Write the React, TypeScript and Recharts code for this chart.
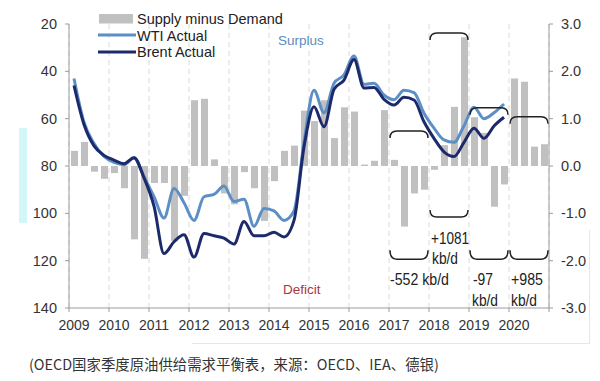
import React from "react";
import {
  ComposedChart,
  Bar,
  Line,
  XAxis,
  YAxis,
  CartesianGrid,
} from "recharts";

// quarterly OECD supply minus demand (mb/d), 2009Q1 .. 2020Q4
const balance = [
  0.32, 0.51, -0.12, -0.27,
  -0.15, -0.47, -1.55, -1.96,
  -0.36, -0.36, -1.58, -0.63,
  1.39, 1.42, 0.14, -0.58,
  -0.81, -0.13, -0.47, -1.16,
  -0.32, 0.32, 0.43, 1.17,
  0.95, 1.39, 0.59, 1.24,
  1.15, 0.03, 0.11, 1.18,
  0.13, -1.28, -0.58, -0.5,
  -0.08, 0.44, 1.25, 2.72,
  1.03, 0.7, -0.86, -0.39,
  1.85, 1.78, 0.41, 0.46,
];

// quarterly prices, 2009Q1 .. 2019Q4
const wti = [
  43, 61.5, 70.5, 76,
  78.5, 79.5, 76.5, 84.5,
  93, 102, 89.5, 95.5,
  103, 93, 92, 88.5,
  95, 94, 105.5, 98,
  99, 103, 99, 70,
  48, 57.5, 45, 41.5,
  33.5, 45.5, 45, 50,
  52, 48, 49, 57.7,
  64, 69, 70, 63,
  55.2, 60, 57.5, 53.8,
];

const brent = [
  46, 62.5, 71.5, 75.5,
  77.5, 79, 76.5, 85,
  97, 117, 112, 109,
  118.5, 108.5, 109.5, 110.5,
  113, 103.5, 109.5, 109.5,
  108, 110, 103, 72,
  55, 63.4, 47.6, 43.7,
  35, 47, 46.8, 51.8,
  54.2, 51, 52.1, 61.3,
  68.3, 74, 76, 70,
  64, 68.3, 63.1, 59.4,
];

const yearTicks = [2009, 2010, 2011, 2012, 2013, 2014, 2015, 2016, 2017, 2018, 2019, 2020, 2021];
const priceTicks = [20, 40, 60, 80, 100, 120, 140];
const balanceTicks = [-3, -2, -1, 0, 1, 2, 3];

const data = balance.map((b, i) => ({
  x: 2009 + (i + 0.5) / 4,
  balance: b,
  wti: i < wti.length ? wti[i] : null,
  brent: i < brent.length ? brent[i] : null,
}));

// plot area (matches chart margins + axis widths below)
const PL = 69;
const PR = 549;
const PT = 24;
const PB = 308;
const xOf = (yr) => PL + ((yr - 2009) / 12) * (PR - PL);
const yOfBal = (v) => PT + ((3 - v) / 6) * (PB - PT);

const FONT = "'Liberation Sans', Arial, sans-serif";
const WTI_C = "#5b8fc5";
const BRENT_C = "#1c2a6b";
const BAR_C = "#c0c0c0";
const AXIS_C = "#9c9c9c";

function topBracket(y0, y1, v) {
  const a = xOf(y0) + 1;
  const b = xOf(y1) - 1;
  const t = yOfBal(v);
  return `M${a},${t + 7} Q${a},${t} ${a + 7},${t} L${b - 7},${t} Q${b},${t} ${b},${t + 7}`;
}

function bottomBrace(y0, y1, vEnd, vLine) {
  const a = xOf(y0) + 1;
  const b = xOf(y1) - 1;
  const e = yOfBal(vEnd);
  const l = yOfBal(vLine);
  return `M${a},${e} Q${a},${l} ${a + 7},${l} L${b - 7},${l} Q${b},${l} ${b},${e}`;
}

function Overlay() {
  const txt = { fontFamily: FONT, fill: "#222" };
  return (
    <svg
      width={600}
      height={381}
      style={{ position: "absolute", left: 0, top: 0, pointerEvents: "none" }}
    >
      {/* legend */}
      <rect x={99} y={14} width={34} height={9.5} fill={BAR_C} />
      <line x1={98} x2={136} y1={35} y2={35} stroke={WTI_C} strokeWidth={3} />
      <line x1={98} x2={136} y1={52} y2={52} stroke={BRENT_C} strokeWidth={3} />
      <text x={137} y={24} fontSize={14.5} {...txt}>Supply minus Demand</text>
      <text x={137} y={40.5} fontSize={14.5} {...txt}>WTI Actual</text>
      <text x={137} y={57} fontSize={14.5} {...txt}>Brent Actual</text>

      <text x={278} y={45} fontSize={13.5} fontFamily={FONT} fill="#5b8cc0">Surplus</text>
      <text x={283} y={294} fontSize={13.5} fontFamily={FONT} fill="#a33b3b">Deficit</text>

      {/* brackets */}
      <g fill="none" stroke="#222" strokeWidth={1.5}>
        <path d={topBracket(2017, 2018, 0.74)} />
        <path d={topBracket(2018, 2019, 2.81)} />
        <path d={topBracket(2019, 2020, 1.23)} />
        <path d={topBracket(2020, 2021, 1.04)} />
        <path d={bottomBrace(2018, 2019, -0.93, -1.08)} />
        <path d={bottomBrace(2017, 2018, -1.78, -1.97)} />
        <path d={bottomBrace(2019, 2020, -1.78, -1.97)} />
        <path d={bottomBrace(2020, 2021, -1.78, -1.97)} />
      </g>

      <text x={431} y={244} fontSize={16} textLength={38} lengthAdjust="spacingAndGlyphs" {...txt}>+1081</text>
      <text x={432} y={264} fontSize={16} textLength={26} lengthAdjust="spacingAndGlyphs" {...txt}>kb/d</text>
      <text x={390} y={285} fontSize={16} textLength={59} lengthAdjust="spacingAndGlyphs" {...txt}>-552 kb/d</text>
      <text x={473} y={285} fontSize={16} textLength={20} lengthAdjust="spacingAndGlyphs" {...txt}>-97</text>
      <text x={472} y={306} fontSize={16} textLength={26} lengthAdjust="spacingAndGlyphs" {...txt}>kb/d</text>
      <text x={511} y={285} fontSize={16} textLength={32} lengthAdjust="spacingAndGlyphs" {...txt}>+985</text>
      <text x={511} y={306} fontSize={16} textLength={26} lengthAdjust="spacingAndGlyphs" {...txt}>kb/d</text>
    </svg>
  );
}

export default function App() {
  return (
    <div
      style={{
        position: "absolute",
        left: 0,
        top: 0,
        width: 600,
        height: 381,
        background: "#fff",
        overflow: "hidden",
      }}
    >
      {/* page artefacts around the screenshot */}
      <div style={{ position: "absolute", left: 19, top: 128, width: 8, height: 95, background: "#d3f6f8" }} />
      <div style={{ position: "absolute", left: 192, top: 343, width: 397, height: 1, background: "#e6e6e6" }} />
      <div style={{ position: "absolute", left: 589, top: 230, width: 1, height: 114, background: "#e6e6e6" }} />

      <ComposedChart
        width={600}
        height={338}
        data={data}
        margin={{ top: 24, right: 6, bottom: 0, left: 19 }}
        style={{ fontFamily: FONT }}
      >
        <CartesianGrid
          horizontal={false}
          strokeDasharray="5 4"
          stroke="#dadada"
          yAxisId="left"
        />
        <XAxis
          dataKey="x"
          type="number"
          domain={[2009, 2021]}
          ticks={yearTicks}
          tickFormatter={(v) => (v === 2021 ? "" : String(v))}
          height={30}
          tickSize={4}
          tickMargin={8}
          tick={{ fontSize: 14, fill: "#333", dx: 5 }}
          stroke={AXIS_C}
          allowDecimals={false}
        />
        <YAxis
          yAxisId="left"
          orientation="left"
          domain={[20, 140]}
          ticks={priceTicks}
          reversed
          width={50}
          tickSize={4}
          tickMargin={8}
          tick={{ fontSize: 14.5, fill: "#333" }}
          stroke={AXIS_C}
        />
        <YAxis
          yAxisId="right"
          orientation="right"
          domain={[-3, 3]}
          ticks={balanceTicks}
          tickFormatter={(v) => v.toFixed(1)}
          width={45}
          tickSize={4}
          tickMargin={8}
          tick={{ fontSize: 14.5, fill: "#333" }}
          stroke={AXIS_C}
        />
        <Bar
          yAxisId="right"
          dataKey="balance"
          fill={BAR_C}
          barSize={7}
          isAnimationActive={false}
        />
        <Line
          yAxisId="left"
          type="monotone"
          dataKey="wti"
          stroke={WTI_C}
          strokeWidth={3}
          dot={false}
          isAnimationActive={false}
        />
        <Line
          yAxisId="left"
          type="monotone"
          dataKey="brent"
          stroke={BRENT_C}
          strokeWidth={3}
          dot={false}
          isAnimationActive={false}
        />
      </ComposedChart>

      <Overlay />

      <div
        style={{
          position: "absolute",
          left: 29,
          top: 354,
          fontFamily: "'Noto Sans CJK SC', sans-serif",
          fontSize: 14.4,
          lineHeight: "20px",
          color: "#333",
          whiteSpace: "nowrap",
        }}
      >
        (OECD国家季度原油供给需求平衡表，来源：OECD、IEA、德银)
      </div>
    </div>
  );
}
